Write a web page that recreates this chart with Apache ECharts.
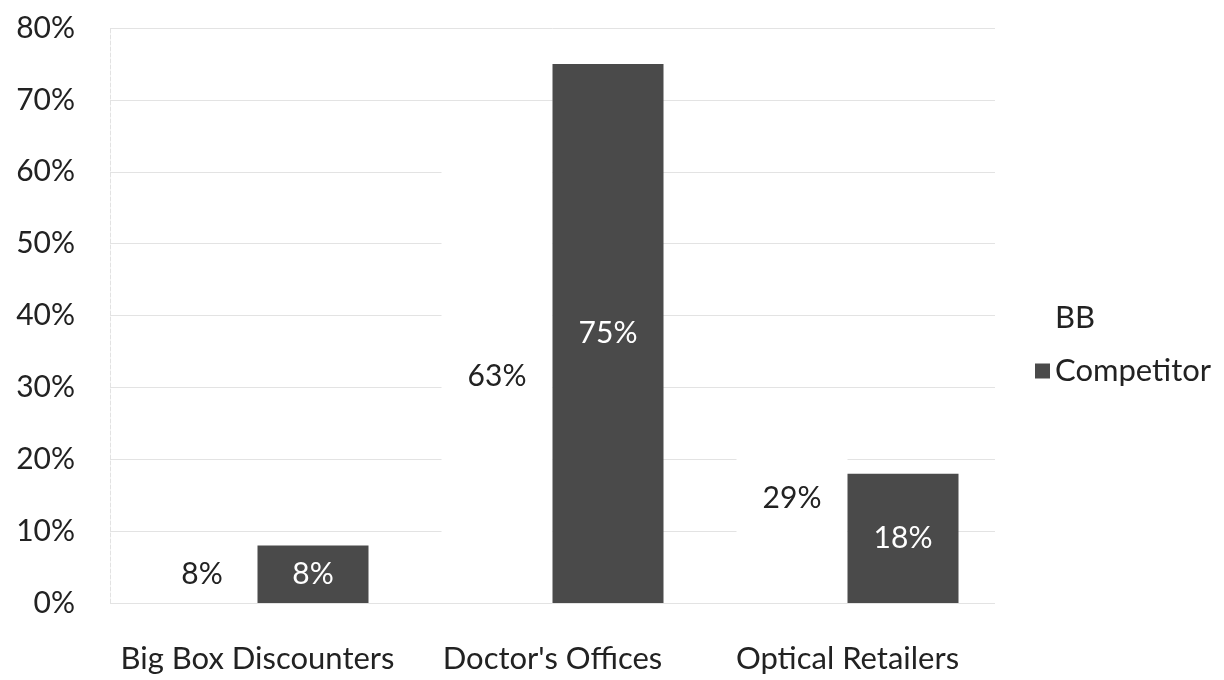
<!DOCTYPE html>
<html>
<head>
<meta charset="utf-8">
<script src="https://cdn.jsdelivr.net/npm/echarts@6/dist/echarts.min.js"></script>
<style>
  html, body { margin: 0; padding: 0; background: #fff; }
  #chart { width: 1224px; height: 680px; }
</style>
</head>
<body>
<div id="chart"></div>
<script>
// Purchase channel share, BB vs. competitor (percent)
const categories = ["Big Box Discounters", "Doctor's Offices", "Optical Retailers"];
const bbValues = [8, 63, 29];
const competitorValues = [8, 75, 18];
const yTicks = { min: 0, max: 80, interval: 10 };

const FONT = 'Lato, "Open Sans", sans-serif';
const TEXT = '#222222';

const chart = echarts.init(document.getElementById('chart'));
chart.setOption({
  backgroundColor: '#ffffff',
  animation: false,
  textStyle: { fontFamily: FONT },
  grid: { left: 110, width: 885, top: 28, bottom: 77, containLabel: false },
  legend: {
    orient: 'vertical',
    left: 1030,
    top: 297,
    itemWidth: 15,
    itemHeight: 15,
    itemGap: 21,
    icon: 'rect',
    textStyle: { fontFamily: FONT, fontSize: 31, color: TEXT, lineHeight: 32 },
    data: ['BB', 'Competitor']
  },
  xAxis: {
    type: 'category',
    data: categories,
    axisLine: { show: false },
    axisTick: { show: false },
    axisLabel: { interval: 0, margin: 40, fontSize: 31, color: TEXT, fontFamily: FONT }
  },
  yAxis: {
    type: 'value',
    min: yTicks.min,
    max: yTicks.max,
    interval: yTicks.interval,
    axisLine: { show: true, lineStyle: { color: '#e2e2e2', type: 'dashed', width: 1 } },
    axisTick: { show: false },
    axisLabel: { margin: 35, fontSize: 30, color: TEXT, fontFamily: FONT, formatter: '{value}%' },
    splitLine: { show: true, lineStyle: { color: '#e3e3e3', width: 1 } }
  },
  series: [
    {
      name: 'BB',
      type: 'bar',
      data: bbValues,
      barWidth: 111,
      barGap: '0%',
      itemStyle: { color: '#ffffff' },
      label: {
        show: true, position: 'inside', formatter: '{c}%',
        fontSize: 30, color: TEXT, fontFamily: FONT
      }
    },
    {
      name: 'Competitor',
      type: 'bar',
      data: competitorValues,
      barWidth: 111,
      barGap: '0%',
      itemStyle: { color: '#4a4a4a' },
      label: {
        show: true, position: 'inside', formatter: '{c}%',
        fontSize: 30, color: '#ffffff', fontFamily: FONT
      }
    }
  ]
});
</script>
</body>
</html>
